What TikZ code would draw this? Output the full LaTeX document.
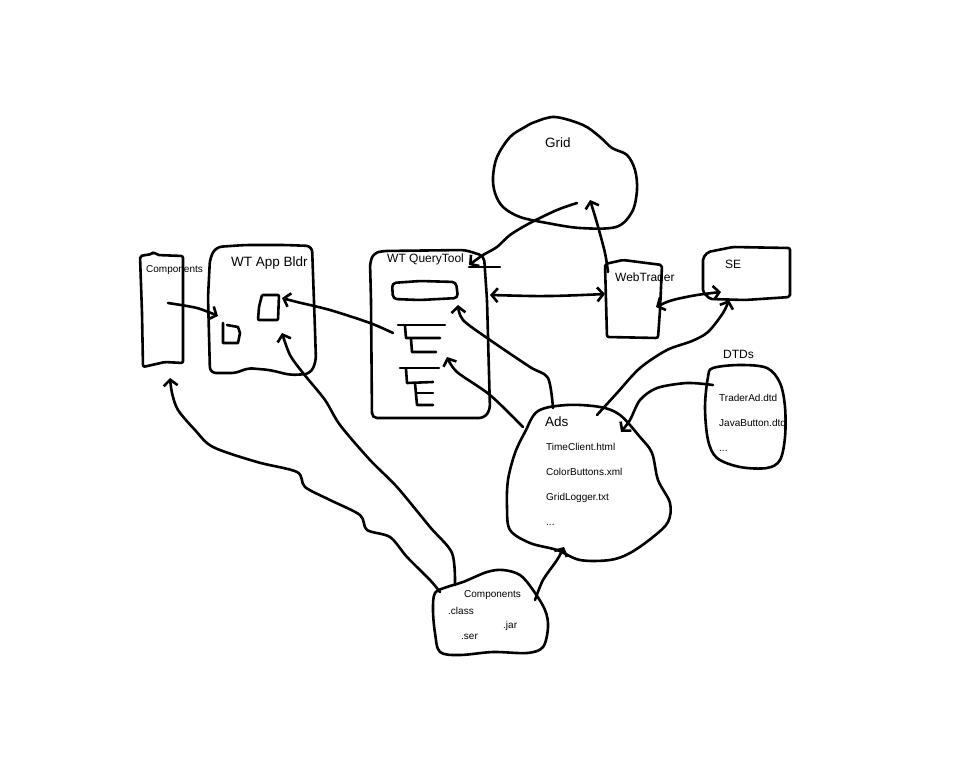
\documentclass[tikz,border=0pt]{standalone}
\usepackage{fontspec}
\setmainfont{Liberation Sans}
\usetikzlibrary{arrows.meta}
\begin{document}
\begin{tikzpicture}[x=1pt,y=-1pt,
  >={Straight Barb[length=6pt,width=14pt]},
  pen/.style={line width=2.6pt,line cap=round,line join=round},
  arr/.style={pen,->},
  darr/.style={pen,<->},
  small/.style={anchor=base west,inner sep=0pt,font=\fontsize{10}{12}\selectfont},
  mid/.style={anchor=base west,inner sep=0pt,font=\fontsize{12}{14}\selectfont},
  big/.style={anchor=base west,inner sep=0pt,font=\fontsize{13.5}{16}\selectfont}]
\fill[white] (0,0) rectangle (960,768);
\useasboundingbox (0,0) rectangle (960,768);

% ---- Components (rectangle, left)
\draw[pen,rounded corners=2pt] (140,256) -- (152,254) -- (154,252) -- (157,255) -- (183,256) -- (183,363) -- (165,362) -- (143,367) -- (142,313) -- cycle;
\node[small] (compR) at (146,272) {Components};

% ---- WT App Bldr
\draw[pen,rounded corners=6pt] (210,258) -- (216,247) -- (245,245) -- (285,245) -- (312,246) -- (315,330) -- (316,362) -- (310,374) -- (290,375) -- (270,370) -- (247,368) -- (237,373) -- (210,373) -- (208,297) -- cycle;
\node[big] (appb) at (231,266) {WT App Bldr};
\draw[pen,rounded corners=1pt] (262,295) -- (279,295) -- (278,320) -- (258,320) -- (259,307) -- cycle;
\draw[pen] (223,323) -- (223,343) -- (238,343) -- (240,333) -- (238,327) -- (227,325);

% ---- WT QueryTool
\draw[pen,rounded corners=5pt] (383,251) -- (465,250) -- (484,256) -- (487,300) -- (490,410) -- (484,418) -- (372,418) -- (371,300) -- (370,262) -- (374,253) -- cycle;
\node[mid] (qt) at (387,262) {WT QueryTool};
\draw[pen,rounded corners=4pt] (392,283) -- (420,281) -- (456,282) -- (458,298) -- (420,300) -- (393,299) -- cycle;
\draw[pen] (398,325) -- (445,325);
\draw[pen] (405,326) -- (406,338) -- (440,338);
\draw[pen] (411,339) -- (412,352) -- (436,352);
\draw[pen] (400,368) -- (439,368);
\draw[pen] (406,369) -- (407,383) -- (433,382);
\draw[pen] (415,383) -- (417,405) -- (433,405);
\draw[pen] (417,393) -- (433,393);

% ---- Grid
\draw[pen] plot[smooth cycle,tension=0.55] coordinates {(535,122) (555,117) (583,125) (600,137) (612,148) (627,155) (635,170) (637,190) (632,212) (616,227) (580,228) (547,223) (520,217) (503,207) (495,193) (493,177) (497,157) (510,137) (525,127)};
\node[big] (grid) at (545,147) {Grid};

% ---- WebTrader
\draw[pen,rounded corners=2pt] (605,264) -- (623,260) -- (662,265) -- (660,310) -- (658,338) -- (607,337) -- cycle;
\node[mid] (wt) at (615,281) {WebTrader};

% ---- SE
\draw[pen,rounded corners=2pt] (703,258) -- (708,252) -- (733,247) -- (790,248) -- (790,297) -- (745,300) -- (710,299) -- (703,292) -- cycle;
\node[mid] (se) at (725,268) {SE};

% ---- DTDs
\draw[pen] plot[smooth cycle,tension=0.55] coordinates {(713,368) (740,365) (767,368) (780,383) (785,407) (785,437) (780,460) (767,468) (740,467) (717,458) (708,440) (705,407) (708,377)};
\node[mid] (dtds) at (723,358) {DTDs};
\node[small] (d1) at (719,401) {TraderAd.dtd};
\node[small] (d2) at (719,426) {JavaButton.dtd};
\node[small] (d3) at (719,451) {...};

% ---- Ads
\draw[pen] plot[smooth cycle,tension=0.55] coordinates {(538,411) (567,405) (600,407) (620,415) (640,437) (652,453) (658,480) (670,503) (668,522) (653,537) (630,553) (610,560) (580,560) (557,550) (530,543) (510,530) (507,507) (508,480) (515,453) (525,432)};
\node[big] (ads) at (545,426) {Ads};
\node[small] (a1t) at (546,450) {TimeClient.html};
\node[small] (a2t) at (546,475) {ColorButtons.xml};
\node[small] (a3t) at (546,500) {GridLogger.txt};
\node[small] (a4t) at (546,525) {...};

% ---- Components (blob, bottom)
\draw[pen] plot[smooth cycle,tension=0.55] coordinates {(435,593) (447,587) (463,582) (487,572) (503,570) (520,575) (533,590) (545,610) (548,627) (543,647) (527,653) (493,652) (460,655) (440,652) (435,633) (433,610)};
\node[small] (compB) at (464,597) {Components};
\node[small] (cls) at (448,614) {.class};
\node[small] (jar) at (503,628) {.jar};
\node[small] (ser) at (461,639) {.ser};

% ---- connector end points
\coordinate (ca1) at (168,303); \coordinate (ca2) at (218,316);
\coordinate (cb1) at (393,333); \coordinate (cb2) at (282,298);
\coordinate (cc1) at (455,585); \coordinate (cc2) at (282,333);
\coordinate (cd1) at (440,592); \coordinate (cd2) at (170,378);
\coordinate (ce1) at (523,427); \coordinate (ce2) at (447,357);
\coordinate (cf1) at (553,408); \coordinate (cf2) at (458,305);
\coordinate (cg1) at (490,295); \coordinate (cg2) at (605,294);
\coordinate (ch1) at (577,203); \coordinate (ch2) at (469,265);
\coordinate (ci1) at (608,272); \coordinate (ci2) at (590,200);
\coordinate (cj1) at (656,307); \coordinate (cj2) at (721,292);
\coordinate (ck1) at (597,415); \coordinate (ck2) at (729,300);
\coordinate (cl1) at (713,385); \coordinate (cl2) at (621,432);
\coordinate (cm1) at (535,600); \coordinate (cm2) at (564,547);
\coordinate (hx1) at (469,267); \coordinate (hx2) at (500,267);

% ---- connectors
\draw[arr] plot[smooth] coordinates {(ca1) (197,308) (ca2)};
\draw[arr] plot[smooth] coordinates {(cb1) (370,323) (330,310) (297,302) (cb2)};
\draw[arr] plot[smooth] coordinates {(cc1) (452,553) (430,527) (397,487) (370,460) (340,425) (325,400) (303,373) (290,355) (cc2)};
\draw[arr] plot[smooth] coordinates {(cd1) (430,580) (407,557) (390,537) (367,530) (360,515) (330,500) (305,487) (297,472) (257,462) (213,447) (195,430) (178,410) (172,393) (cd2)};
\draw[arr] plot[smooth] coordinates {(ce1) (490,395) (457,372) (ce2)};
\draw[arr] plot[smooth] coordinates {(cf1) (548,378) (530,367) (490,340) (463,320) (cf2)};
\draw[darr] plot[smooth] coordinates {(cg1) (550,296) (cg2)};
\draw[arr] plot[smooth] coordinates {(ch1) (557,210) (530,223) (510,235) (497,247) (483,255) (ch2)};
\draw[pen] (hx1) -- (hx2);
\draw[arr] plot[smooth] coordinates {(ci1) (605,253) (597,223) (ci2)};
\draw[darr] plot[smooth] coordinates {(cj1) (673,300) (697,295) (cj2)};
\draw[arr] plot[smooth] coordinates {(ck1) (617,393) (640,368) (667,350) (692,341) (708,332) (723,313) (ck2)};
\draw[arr] plot[smooth] coordinates {(cl1) (687,383) (657,388) (640,400) (630,420) (cl2)};
\draw[arr] plot[smooth] coordinates {(cm1) (543,580) (557,560) (cm2)};
\end{tikzpicture}
\end{document}
